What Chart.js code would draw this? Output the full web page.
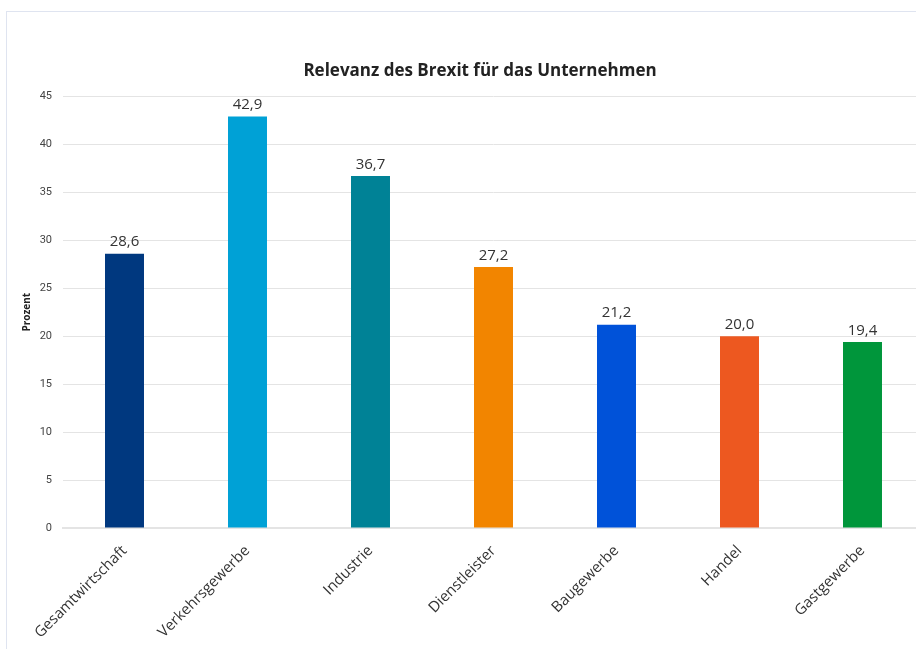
<!DOCTYPE html>
<html>
<head>
<meta charset="utf-8">
<script src="https://cdn.jsdelivr.net/npm/chart.js@4/dist/chart.umd.min.js"></script>
<style>
  html, body { margin: 0; padding: 0; overflow: hidden; background: #fff; }
  #box { position: absolute; left: 6px; top: 11px; width: 960px; height: 700px; border: 1px solid #dfe4f0; }
  canvas { display: block; }
</style>
</head>
<body>
<div id="box"><canvas id="myChart" width="946" height="640"></canvas></div>
<script>
const categories = ['Gesamtwirtschaft', 'Verkehrsgewerbe', 'Industrie', 'Dienstleister', 'Baugewerbe', 'Handel', 'Gastgewerbe'];
const values = [28.6, 42.9, 36.7, 27.2, 21.2, 20.0, 19.4];
const barColors = ['#00387f', '#00a1d6', '#008296', '#f28500', '#0052d9', '#ed5820', '#00963b'];

// draw value labels above bars
const valueLabels = {
    id: 'valueLabels',
    afterDatasetsDraw(chart) {
        const ctx = chart.ctx;
        const meta = chart.getDatasetMeta(0);
        ctx.save();
        ctx.font = '15px "Open Sans", sans-serif';
        ctx.fillStyle = '#333';
        ctx.textAlign = 'center';
        ctx.textBaseline = 'bottom';
        meta.data.forEach((bar, i) => {
            ctx.fillText(values[i].toFixed(1).replace('.', ','), bar.x, bar.y - 4);
        });
        ctx.restore();
    }
};

new Chart(document.getElementById('myChart'), {
    type: 'bar',
    data: {
        labels: categories,
        datasets: [{
            data: values,
            backgroundColor: barColors,
            categoryPercentage: 1,
            barPercentage: 0.317,
        }]
    },
    options: {
        responsive: false,
        animation: false,
        layout: { padding: 0 },
        plugins: {
            legend: { display: false },
            tooltip: { enabled: false },
            title: {
                display: true,
                text: 'Relevanz des Brexit für das Unternehmen',
                color: '#222',
                font: { family: 'Open Sans', size: 17, weight: 'bold', lineHeight: 1.2 },
                padding: { top: 49, bottom: 15 },
            }
        },
        scales: {
            x: {
                grid: { display: false },
                border: { color: '#e4e4e4', width: 2 },
                ticks: {
                    color: '#333',
                    font: { family: 'Open Sans', size: 15 },
                    maxRotation: 45,
                    minRotation: 45,
                    padding: 6,
                },
                afterFit(scale) { scale.height = 124; }
            },
            y: {
                min: 0,
                max: 45,
                ticks: {
                    stepSize: 5,
                    color: '#444',
                    font: { family: 'Roboto', size: 11 },
                    padding: 11,
                },
                grid: { color: '#e4e4e4', drawTicks: false },
                border: { display: false },
                title: {
                    display: true,
                    text: 'Prozent',
                    color: '#222',
                    font: { family: 'Open Sans', size: 10, weight: 'bold', lineHeight: 1.2 },
                    padding: { top: 14, bottom: 0 },
                },
                afterFit(scale) { scale.width = 56; }
            },
            yRight: {
                position: 'right',
                grid: { display: false },
                border: { display: false },
                ticks: { display: false },
                afterFit(scale) { scale.width = 29; }
            }
        }
    },
    plugins: [valueLabels]
});
</script>
</body>
</html>
